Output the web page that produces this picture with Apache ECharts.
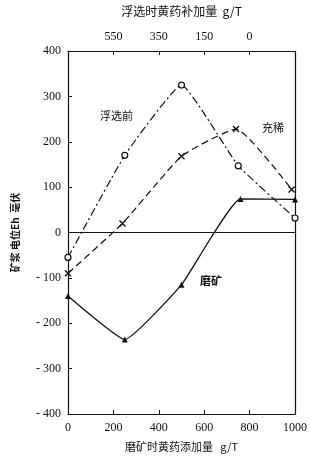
<!DOCTYPE html>
<html><head><meta charset="utf-8">
<script src="https://cdn.jsdelivr.net/npm/echarts@6/dist/echarts.min.js"></script>
<style>html,body{margin:0;padding:0;background:#fff}#c{width:310px;height:457px}</style>
</head><body><div id="c"></div>
<script>
const beforeFloat = [[0, -55], [250, 170], [500, 325], [750, 147], [1000, 32]];
const dilution = [[0, -90], [240, 20], [500, 168], [740, 228], [985, 95]];
const grinding = [[0, -140], [250, -236], [500, -115], [760, 74], [1000, 73]];
const bottomTicks = [0, 200, 400, 600, 800, 1000];
const topTickLabels = {200: '550', 400: '350', 600: '150', 800: '0'};
const yTicks = [-400, -300, -200, -100, 0, 100, 200, 300, 400];

const serif = '"Liberation Serif","DejaVu Serif",serif';
const cjk = '"Noto Sans CJK SC","Noto Sans",sans-serif';
const chart = echarts.init(document.getElementById('c'));
const crossPath = 'path://M0,0L10,10M10,0L0,10';
chart.setOption({
  animation: false,
  grid: {left: 68, right: 11, top: 44, bottom: 40},
  xAxis: [{
    type: 'value', min: 0, max: 1000, interval: 200, position: 'bottom',
    axisLine: {onZero: false, lineStyle: {color: '#111', width: 1.2}},
    axisTick: {inside: true, length: 4, lineStyle: {color: '#111'}},
    splitLine: {show: false},
    axisLabel: {color: '#111', fontFamily: serif, fontSize: 12, margin: 8,
      formatter: v => bottomTicks.indexOf(v) >= 0 ? String(v) : ''},
    name: '磨矿时黄药添加量   g/T', nameLocation: 'middle', nameGap: 27,
    nameTextStyle: {color: '#111', fontFamily: cjk, fontSize: 11}
  }, {
    type: 'value', min: 0, max: 1000, interval: 200, position: 'top',
    axisLine: {onZero: false, lineStyle: {color: '#111', width: 1.2}},
    axisTick: {inside: true, length: 4, lineStyle: {color: '#111'}},
    splitLine: {show: false},
    axisLabel: {color: '#111', fontFamily: serif, fontSize: 12, margin: 8,
      formatter: v => topTickLabels[v] || ''},
    name: '浮选时黄药补加量  g/T', nameLocation: 'middle', nameGap: 34,
    nameTextStyle: {color: '#111', fontFamily: cjk, fontSize: 12}
  }],
  yAxis: [{
    type: 'value', min: -400, max: 400, interval: 100, position: 'left',
    axisLine: {show: true, onZero: false, lineStyle: {color: '#111', width: 1.2}},
    axisTick: {show: true, inside: true, length: 4, lineStyle: {color: '#111'}},
    splitLine: {show: false},
    axisLabel: {color: '#111', fontFamily: serif, fontSize: 12, margin: 7,
      formatter: v => yTicks.indexOf(v) < 0 ? '' : (v < 0 ? '- ' + (-v) : String(v))},
    name: '矿浆 电位Eh  毫伏', nameLocation: 'middle', nameGap: 48, nameRotate: 90,
    nameTextStyle: {color: '#111', fontFamily: cjk, fontSize: 10, fontWeight: 'bold'}
  }, {
    type: 'value', min: -400, max: 400, interval: 100, position: 'right',
    axisLine: {show: true, onZero: false, lineStyle: {color: '#111', width: 1.2}},
    axisTick: {show: false}, axisLabel: {show: false}, splitLine: {show: false}
  }],
  series: [{
    name: '浮选前', type: 'line', data: beforeFloat, smooth: 0.12,
    symbol: 'circle', symbolSize: 6,
    itemStyle: {color: '#fff', borderColor: '#111', borderWidth: 1.2},
    lineStyle: {color: '#111', width: 1.2, type: [8, 3, 2, 3]},
    markLine: {silent: true, symbol: 'none', label: {show: false},
      lineStyle: {color: '#111', width: 1, type: 'solid'}, data: [{yAxis: 0}]}
  }, {
    name: '充稀', type: 'line', data: dilution, smooth: 0.15,
    symbol: crossPath, symbolSize: 6,
    itemStyle: {color: '#111', borderColor: '#111', borderWidth: 1.4},
    lineStyle: {color: '#111', width: 1.2, type: [7, 4]}
  }, {
    name: '磨矿', type: 'line', data: grinding, smooth: 0.12,
    symbol: 'triangle', symbolSize: 6,
    itemStyle: {color: '#111'},
    lineStyle: {color: '#111', width: 1.3, type: 'solid'}
  }],
  graphic: [
    {type: 'text', left: 100, top: 110, style: {text: '浮选前', font: '11px ' + cjk, fill: '#111'}},
    {type: 'text', left: 262, top: 122, style: {text: '充稀', font: '11px ' + cjk, fill: '#111'}},
    {type: 'text', left: 200, top: 275, style: {text: '磨矿', font: 'bold 11px ' + cjk, fill: '#111'}}
  ]
});
</script></body></html>
